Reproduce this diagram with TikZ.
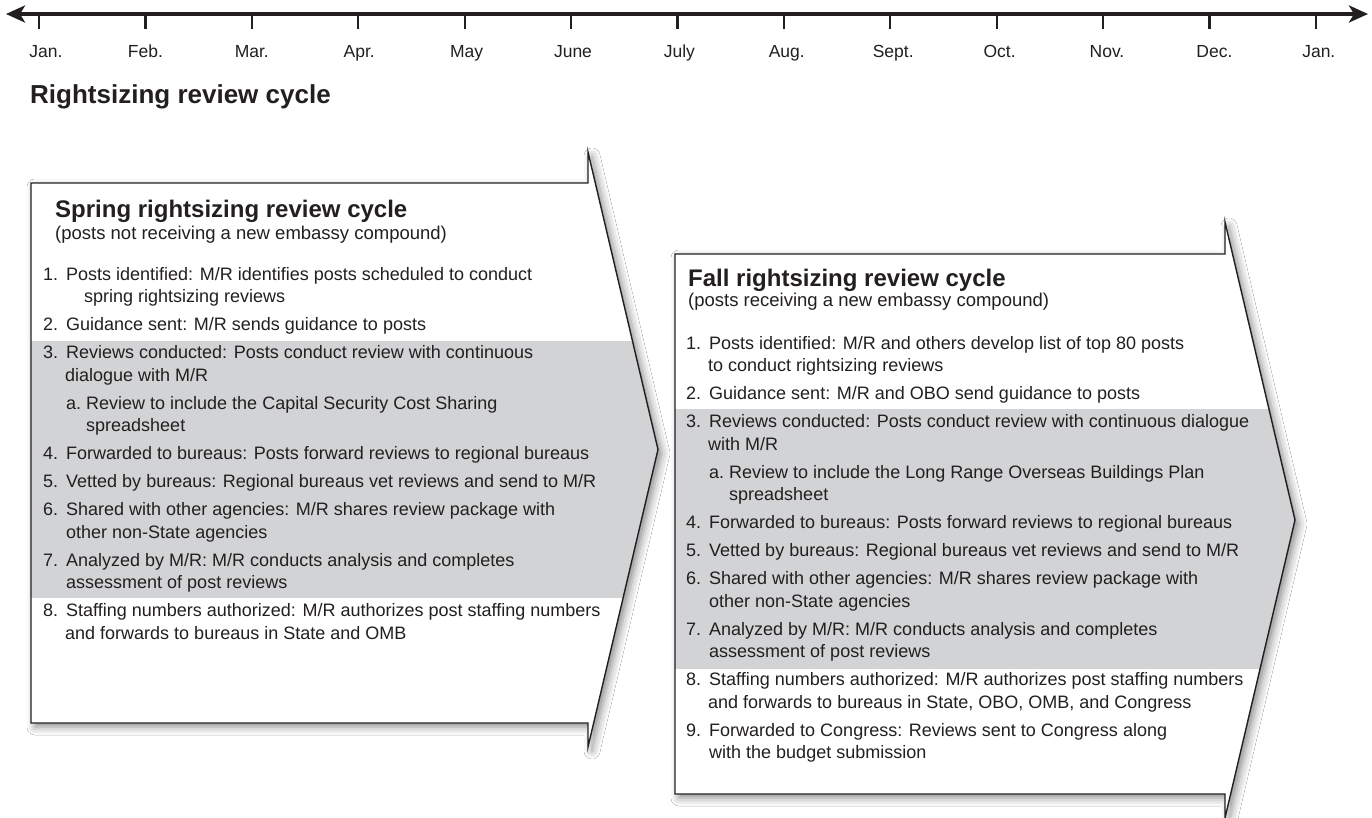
\documentclass[tikz,border=0pt]{standalone}
\usepackage{fontspec}
\setmainfont{Liberation Sans}
\usetikzlibrary{arrows.meta,shadows.blur}
\definecolor{ink}{HTML}{231F20}
\definecolor{bandgray}{HTML}{D1D3D4}
\newcommand\inum[1]{\makebox[23pt][l]{#1}}
\newcommand\snum[1]{\makebox[20pt][l]{#1}}
\tikzset{
  itm/.style={anchor=base west, inner sep=0pt, text=ink, font=\fontsize{18}{22.5}\selectfont},
  ttl/.style={anchor=base west, inner sep=0pt, text=ink, font=\bfseries\fontsize{24}{28}\selectfont},
  subttl/.style={anchor=base west, inner sep=0pt, text=ink, font=\fontsize{18.5}{22}\selectfont},
  maintitle/.style={anchor=base west, inner sep=0pt, text=ink, font=\bfseries\fontsize{26}{30}\selectfont},
  mon/.style={anchor=base, inner sep=0pt, text=ink, font=\fontsize{17.5}{20}\selectfont},
  tickline/.style={draw=ink, line width=2.2pt},
  axis/.style={draw=ink, line width=3.6pt, {Stealth[length=19pt,width=17pt,inset=5pt]}-{Stealth[length=19pt,width=17pt,inset=5pt]}},
  arrowfill/.style={fill=white, blur shadow={shadow xshift=4pt, shadow yshift=-4pt, shadow blur radius=8pt, shadow opacity=45}},
  arrowedge/.style={draw=ink, line width=1.4pt, line join=miter},
  band/.style={fill=bandgray}
}
\begin{document}
\begin{tikzpicture}[x=1pt,y=-1pt]
\fill[white] (0,0) rectangle (1372,818);
\useasboundingbox (0,0) rectangle (1372,818);

% ---------- timeline ----------
\coordinate (tlL) at (6,14);
\coordinate (tlR) at (1368,14);
\draw[axis] (tlL) -- (tlR);
\foreach \m/\dx [count=\i from 0] in {Jan./7,Feb./0,Mar./0,Apr./1,May/2,June/2,July/2,Aug./3,Sept./3,Oct./3,Nov./4,Dec./5,Jan./3}{
  \coordinate (tick\i) at ({39+106.4*\i},14);
  \draw[tickline] (tick\i) -- ++(0,15);
  \node[mon] (mon\i) at ({39+106.4*\i+\dx},58) {\m};
}
\node[maintitle] (title) at (30,104) {Rightsizing review cycle};

% ---------- spring arrow ----------
\coordinate (sA) at (31,183);
\coordinate (sB) at (588,183);
\coordinate (sC) at (588,152);
\coordinate (sD) at (658,449.5);
\coordinate (sE) at (588,747);
\coordinate (sF) at (588,723);
\coordinate (sG) at (31,723);
\path[arrowfill] (sA) -- (sB) -- (sC) -- (sD) -- (sE) -- (sF) -- (sG) -- cycle;
\begin{scope}
  \clip (sA) -- (sB) -- (sC) -- (sD) -- (sE) -- (sF) -- (sG) -- cycle;
  \fill[band] (20,341) rectangle (700,598);
\end{scope}
\draw[arrowedge] (sA) -- (sB) -- (sC) -- (sD) -- (sE) -- (sF) -- (sG) -- cycle;

\node[ttl] (sT) at (55,217.5) {Spring rightsizing review cycle};
\node[subttl] (sS) at (55,239.5) {(posts not receiving a new embassy compound)};

\node[itm] (s1)  at (43,280)    {\inum{1.}Posts identified: M/R identifies posts scheduled to conduct};
\node[itm] (s1b) at (84,302.5)  {spring rightsizing reviews};
\node[itm] (s2)  at (43,330.5)  {\inum{2.}Guidance sent: M/R sends guidance to posts};
\node[itm] (s3)  at (43,358.5)  {\inum{3.}Reviews conducted: Posts conduct review with continuous};
\node[itm] (s3b) at (65,381)    {dialogue with M/R};
\node[itm] (s3a) at (66,409)    {\snum{a.}Review to include the Capital Security Cost Sharing};
\node[itm] (s3c) at (86,431.5)  {spreadsheet};
\node[itm] (s4)  at (43,459.5)  {\inum{4.}Forwarded to bureaus: Posts forward reviews to regional bureaus};
\node[itm] (s5)  at (43,487.5)  {\inum{5.}Vetted by bureaus: Regional bureaus vet reviews and send to M/R};
\node[itm] (s6)  at (43,515.5)  {\inum{6.}Shared with other agencies: M/R shares review package with};
\node[itm] (s6b) at (66,538)    {other non-State agencies};
\node[itm] (s7)  at (43,566)    {\inum{7.}Analyzed by M/R: M/R conducts analysis and completes};
\node[itm] (s7b) at (66,588.5)  {assessment of post reviews};
\node[itm] (s8)  at (43,616.5)  {\inum{8.}Staffing numbers authorized: M/R authorizes post staffing numbers};
\node[itm] (s8b) at (65,639)    {and forwards to bureaus in State and OMB};

% ---------- fall arrow ----------
\coordinate (fA) at (675,254);
\coordinate (fB) at (1225,254);
\coordinate (fC) at (1225,222);
\coordinate (fD) at (1295,520);
\coordinate (fE) at (1225,818);
\coordinate (fF) at (1225,794);
\coordinate (fG) at (675,794);
\path[arrowfill] (fA) -- (fB) -- (fC) -- (fD) -- (fE) -- (fF) -- (fG) -- cycle;
\begin{scope}
  \clip (fA) -- (fB) -- (fC) -- (fD) -- (fE) -- (fF) -- (fG) -- cycle;
  \fill[band] (660,409) rectangle (1340,669);
\end{scope}
\draw[arrowedge] (fA) -- (fB) -- (fC) -- (fD) -- (fE) -- (fF) -- (fG) -- cycle;

\node[ttl] (fT) at (688,286) {Fall rightsizing review cycle};
\node[subttl] (fS) at (688,306.5) {(posts receiving a new embassy compound)};

\node[itm] (f1)  at (686,349)    {\inum{1.}Posts identified: M/R and others develop list of top 80 posts};
\node[itm] (f1b) at (708,371.5)  {to conduct rightsizing reviews};
\node[itm] (f2)  at (686,399.5)  {\inum{2.}Guidance sent: M/R and OBO send guidance to posts};
\node[itm] (f3)  at (686,427.5)  {\inum{3.}Reviews conducted: Posts conduct review with continuous dialogue};
\node[itm] (f3b) at (708,450)    {with M/R};
\node[itm] (f3a) at (709,478)    {\snum{a.}Review to include the Long Range Overseas Buildings Plan};
\node[itm] (f3c) at (729,500.5)  {spreadsheet};
\node[itm] (f4)  at (686,528.5)  {\inum{4.}Forwarded to bureaus: Posts forward reviews to regional bureaus};
\node[itm] (f5)  at (686,556.5)  {\inum{5.}Vetted by bureaus: Regional bureaus vet reviews and send to M/R};
\node[itm] (f6)  at (686,584.5)  {\inum{6.}Shared with other agencies: M/R shares review package with};
\node[itm] (f6b) at (709,607)    {other non-State agencies};
\node[itm] (f7)  at (686,635)    {\inum{7.}Analyzed by M/R: M/R conducts analysis and completes};
\node[itm] (f7b) at (709,657.5)  {assessment of post reviews};
\node[itm] (f8)  at (686,685.5)  {\inum{8.}Staffing numbers authorized: M/R authorizes post staffing numbers};
\node[itm] (f8b) at (708,708)    {and forwards to bureaus in State, OBO, OMB, and Congress};
\node[itm] (f9)  at (686,736)    {\inum{9.}Forwarded to Congress: Reviews sent to Congress along};
\node[itm] (f9b) at (709,758.5)  {with the budget submission};
\end{tikzpicture}
\end{document}
